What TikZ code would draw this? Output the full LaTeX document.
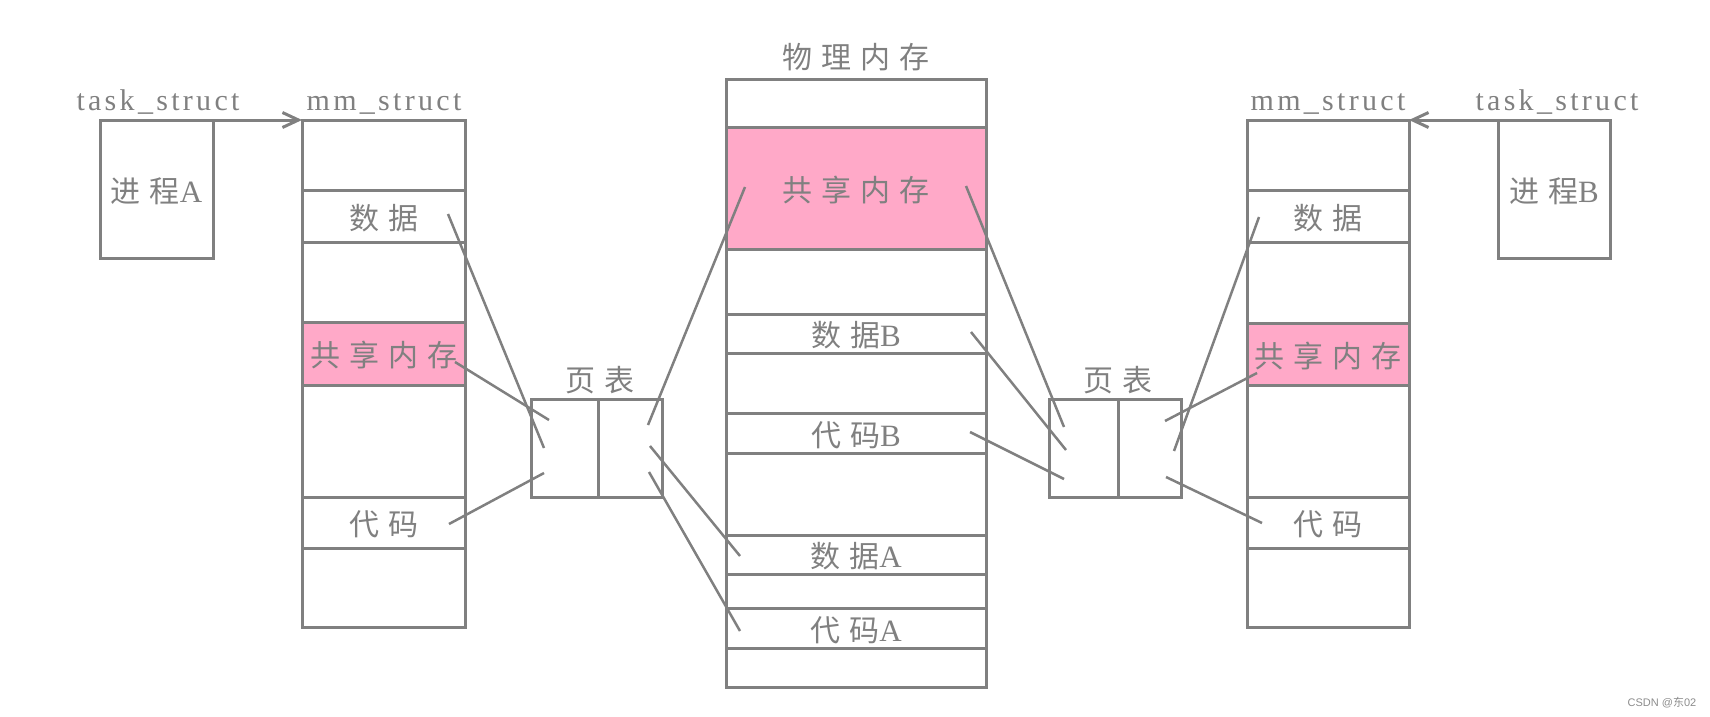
\documentclass[tikz,border=0pt]{standalone}
\usepackage{fontspec}
\setmainfont{Liberation Serif}[LetterSpace=11]
\newfontfamily\cjk{Noto Sans CJK SC}[LetterSpace=30]
\newfontfamily\wmfont{Liberation Sans}
\usetikzlibrary{arrows.meta}
\definecolor{lg}{HTML}{808080}
\definecolor{pk}{HTML}{FFA9C8}
\newcommand{\zh}[1]{{\fontsize{30}{30}\cjk #1}}
\begin{document}
\begin{tikzpicture}[x=1pt,y=-1pt,
  box/.style={draw=lg,line width=3pt,rectangle,inner sep=0pt,outer sep=0pt,
    text=lg,font=\fontsize{31}{32}\selectfont,text height=26pt,text depth=0pt},
  shared/.style={box,fill=pk},
  ttl/.style={text=lg,font=\fontsize{30}{30}\selectfont,inner sep=0pt},
  conn/.style={draw=lg,line width=2.5pt},
]
\useasboundingbox (0,0) rectangle (1710,717);

% ---- process A ----
\node[box,minimum width=113pt,minimum height=138pt] (tA) at (156.5,189) {\zh{进程}A};
\node[ttl,anchor=base] (tAl) at (158,110) {task\_struct};

% ---- mm_struct A ----
\node[box,minimum width=163pt,minimum height=70pt] (mA1) at (383.5,155) {};
\node[box,minimum width=163pt,minimum height=52pt] (mA2) at (383.5,216) {\zh{数据}};
\node[box,minimum width=163pt,minimum height=80pt] (mA3) at (383.5,282) {};
\node[shared,minimum width=163pt,minimum height=63pt] (mA4) at (383.5,353.5) {\zh{共享内存}};
\node[box,minimum width=163pt,minimum height=112pt] (mA5) at (383.5,441) {};
\node[box,minimum width=163pt,minimum height=51pt] (mA6) at (383.5,522.5) {\zh{代码}};
\node[box,minimum width=163pt,minimum height=79pt] (mA7) at (383.5,587.5) {};
\node[ttl,anchor=base] (mAl) at (384,110) {mm\_struct};

% ---- page table A ----
\node[box,minimum width=67pt,minimum height=98pt] (pA1) at (564.5,448) {};
\node[box,minimum width=64pt,minimum height=98pt] (pA2) at (630,448) {};
\node[ttl] (pAl) at (600,380) {\zh{页表}};

% ---- physical memory ----
\node[ttl] (phl) at (856,57) {\zh{物理内存}};
\node[box,minimum width=260pt,minimum height=48pt] (ph1) at (856,103) {};
\node[shared,minimum width=260pt,minimum height=122pt] (ph2) at (856,188) {\zh{共享内存}};
\node[box,minimum width=260pt,minimum height=65pt] (ph3) at (856,281.5) {};
\node[box,minimum width=260pt,minimum height=39pt] (ph4) at (856,333.5) {\zh{数据}B};
\node[box,minimum width=260pt,minimum height=60pt] (ph5) at (856,383) {};
\node[box,minimum width=260pt,minimum height=40pt] (ph6) at (856,433) {\zh{代码}B};
\node[box,minimum width=260pt,minimum height=82pt] (ph7) at (856,494) {};
\node[box,minimum width=260pt,minimum height=39pt] (ph8) at (856,554.5) {\zh{数据}A};
\node[box,minimum width=260pt,minimum height=34pt] (ph9) at (856,591) {};
\node[box,minimum width=260pt,minimum height=40pt] (ph10) at (856,628) {\zh{代码}A};
\node[box,minimum width=260pt,minimum height=39pt] (ph11) at (856,667.5) {};

% ---- page table B ----
\node[box,minimum width=69pt,minimum height=98pt] (pB1) at (1083.5,448) {};
\node[box,minimum width=63pt,minimum height=98pt] (pB2) at (1149.5,448) {};
\node[ttl] (pBl) at (1118,380) {\zh{页表}};

% ---- mm_struct B ----
\node[box,minimum width=162pt,minimum height=70pt] (mB1) at (1328,155) {};
\node[box,minimum width=162pt,minimum height=52pt] (mB2) at (1328,216) {\zh{数据}};
\node[box,minimum width=162pt,minimum height=81pt] (mB3) at (1328,282.5) {};
\node[shared,minimum width=162pt,minimum height=62pt] (mB4) at (1328,354) {\zh{共享内存}};
\node[box,minimum width=162pt,minimum height=112pt] (mB5) at (1328,441) {};
\node[box,minimum width=162pt,minimum height=51pt] (mB6) at (1328,522.5) {\zh{代码}};
\node[box,minimum width=162pt,minimum height=79pt] (mB7) at (1328,587.5) {};
\node[ttl,anchor=base] (mBl) at (1328,110) {mm\_struct};

% ---- process B ----
\node[box,minimum width=112pt,minimum height=138pt] (tB) at (1554,189) {\zh{进程}B};
\node[ttl,anchor=base] (tBl) at (1557,110) {task\_struct};

% ---- arrows task -> mm ----
\draw[conn,line width=3pt,-{Straight Barb[length=16pt,width=15pt,line width=3pt]}] (tA.north east) -- (mA1.north west);
\draw[conn,line width=3pt,-{Straight Barb[length=16pt,width=15pt,line width=3pt]}] (tB.north west) -- (mB1.north east);

% ---- connector end points ----
\coordinate (aDs) at (448,214);  \coordinate (aDe) at (544,448);
\coordinate (aSs) at (455,362);  \coordinate (aSe) at (549,420);
\coordinate (aCs) at (449,524);  \coordinate (aCe) at (544,473);
\coordinate (pAr1) at (648,425); \coordinate (phSl) at (745,187);
\coordinate (pAr2) at (650,446); \coordinate (phDA) at (740,556);
\coordinate (pAr3) at (649,472); \coordinate (phCA) at (740,631);
\coordinate (phSr) at (966,186); \coordinate (pBl1) at (1064,427);
\coordinate (phDB) at (971,332); \coordinate (pBl2) at (1066,450);
\coordinate (phCB) at (970,432); \coordinate (pBl3) at (1064,479);
\coordinate (pBr1) at (1165,421); \coordinate (bS) at (1257,373);
\coordinate (pBr2) at (1174,451); \coordinate (bD) at (1259,217);
\coordinate (pBr3) at (1166,477); \coordinate (bC) at (1262,523);

\draw[conn] (aDs) -- (aDe);
\draw[conn] (aSs) -- (aSe);
\draw[conn] (aCs) -- (aCe);
\draw[conn] (pAr1) -- (phSl);
\draw[conn] (pAr2) -- (phDA);
\draw[conn] (pAr3) -- (phCA);
\draw[conn] (phSr) -- (pBl1);
\draw[conn] (phDB) -- (pBl2);
\draw[conn] (phCB) -- (pBl3);
\draw[conn] (pBr1) -- (bS);
\draw[conn] (pBr2) -- (bD);
\draw[conn] (pBr3) -- (bC);

% ---- watermark ----
\node[text=black!45,font=\wmfont\fontsize{11}{11}\selectfont,inner sep=0pt] (wm) at (1662,703) {CSDN @{\cjk 东}02};
\end{tikzpicture}
\end{document}
